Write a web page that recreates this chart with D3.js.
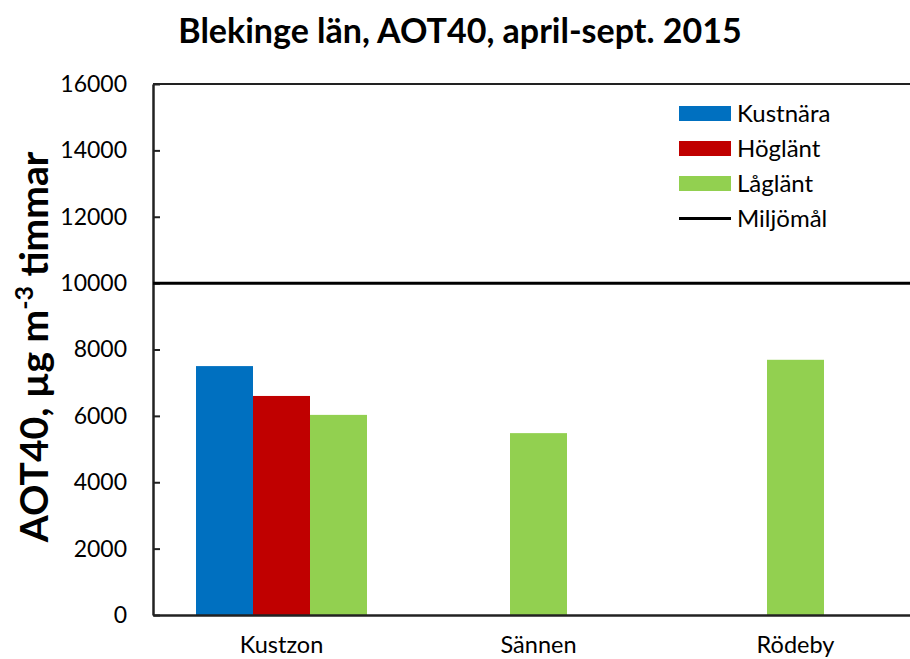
<!DOCTYPE html>
<html><head><meta charset="utf-8">
<script src="https://cdn.jsdelivr.net/npm/d3@7"></script>
<style>body{margin:0;background:#fff}svg{display:block}text{font-family:Lato,"Open Sans",sans-serif}</style>
</head><body>
<script>
const categories = ["Kustzon", "Sännen", "Rödeby"];
const seriesNames = ["Kustnära", "Höglänt", "Låglänt"];
const seriesColors = ["#0070C0", "#C00000", "#92D050"];
const kustnara = [7500, null, null];
const hoglant = [6600, null, null];
const laglant = [6030, 5480, 7690];
const miljomal = 10000;
const yTicks = [0, 2000, 4000, 6000, 8000, 10000, 12000, 14000, 16000];

const W = 910, H = 659;
const m = {left: 153, top: 84, right: 924, bottom: 615};
const svg = d3.select("body").append("svg").attr("width", W).attr("height", H);

const x = d3.scaleBand().domain(categories).range([m.left, m.right]).paddingInner(0).paddingOuter(0);
const y = d3.scaleLinear().domain([0, 16000]).range([m.bottom, m.top]);
const barW = 57;

const values = [kustnara, hoglant, laglant];
categories.forEach((c, ci) => {
  const present = seriesNames.map((s, si) => ({s, si, v: values[si][ci]})).filter(d => d.v != null);
  const inner = d3.scaleBand().domain(present.map(d => d.s)).range([0, barW * present.length]);
  const x0 = x(c) + x.bandwidth() / 2 - barW * present.length / 2;
  svg.selectAll(null).data(present).enter().append("rect")
    .attr("x", d => x0 + inner(d.s))
    .attr("width", inner.bandwidth())
    .attr("y", d => y(d.v))
    .attr("height", d => y(0) - y(d.v))
    .attr("fill", d => seriesColors[d.si]);
});

svg.append("line").attr("x1", m.left).attr("x2", m.right).attr("y1", m.top).attr("y2", m.top)
  .attr("stroke", "#222").attr("stroke-width", 2);
svg.append("line").attr("x1", m.right).attr("x2", m.right).attr("y1", m.top).attr("y2", m.bottom)
  .attr("stroke", "#222").attr("stroke-width", 2);

const ya = svg.append("g").attr("transform", `translate(${m.left},0)`)
  .call(d3.axisLeft(y).tickValues(yTicks).tickSizeInner(-7).tickSizeOuter(0).tickPadding(26).tickFormat(d3.format("d")));
ya.select(".domain").attr("stroke", "#222").attr("stroke-width", 2.5);
ya.selectAll(".tick line").attr("stroke", "#222").attr("stroke-width", 2);
ya.selectAll(".tick text").attr("font-size", 23).attr("fill", "#000").attr("font-family", "Lato,'Open Sans',sans-serif");

const xa = svg.append("g").attr("transform", `translate(0,${m.bottom})`)
  .call(d3.axisBottom(x).tickSize(0).tickPadding(21));
xa.select(".domain").attr("stroke", "#222").attr("stroke-width", 2.5);
xa.selectAll(".tick text").attr("font-size", 23.5).attr("fill", "#000").attr("font-family", "Lato,'Open Sans',sans-serif");

svg.append("line").attr("x1", m.left).attr("x2", m.right).attr("y1", y(miljomal)).attr("y2", y(miljomal))
  .attr("stroke", "#000").attr("stroke-width", 3);

svg.append("text").attr("x", 460).attr("y", 43).attr("text-anchor", "middle")
  .attr("font-size", 34).attr("font-weight", "bold").attr("fill", "#000")
  .text("Blekinge län, AOT40, april-sept. 2015");

const yt = svg.append("text").attr("transform", "translate(48,347) rotate(-90)").attr("text-anchor", "middle")
  .attr("font-size", 39).attr("font-weight", "bold").attr("fill", "#000");
yt.append("tspan").text("AOT40, µg m");
yt.append("tspan").attr("font-size", 25).attr("dy", -15).text("-3");
yt.append("tspan").attr("dy", 15).text(" timmar");

const legItems = seriesNames.map((s, i) => ({name: s, color: seriesColors[i], type: "rect"}))
  .concat([{name: "Miljömål", color: "#000", type: "line"}]);
const lg = svg.append("g");
legItems.forEach((d, i) => {
  const cy = 113.5 + i * 35;
  if (d.type === "rect") {
    lg.append("rect").attr("x", 679).attr("y", cy - 7.5).attr("width", 52).attr("height", 15).attr("fill", d.color);
  } else {
    lg.append("line").attr("x1", 679).attr("x2", 731).attr("y1", cy).attr("y2", cy).attr("stroke", d.color).attr("stroke-width", 3);
  }
  lg.append("text").attr("x", 737).attr("y", cy + 8.5).attr("font-size", 24).attr("fill", "#000").text(d.name);
});
</script>
</body></html>
